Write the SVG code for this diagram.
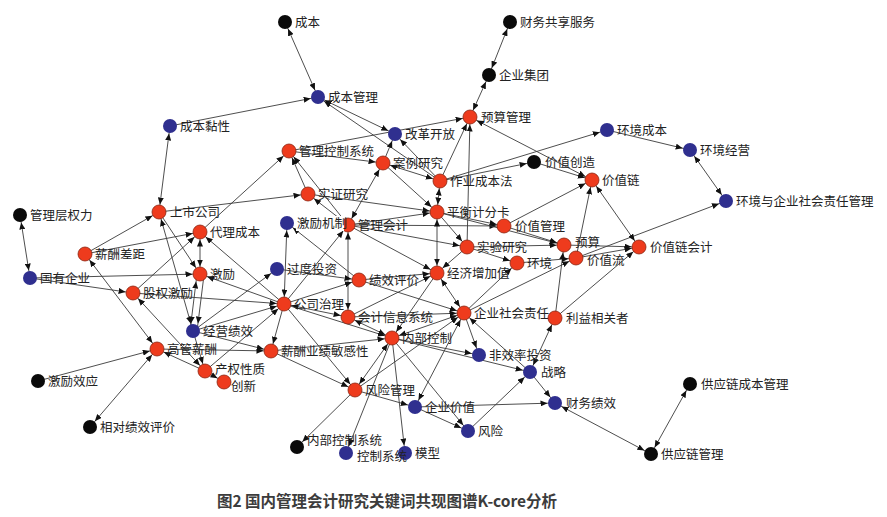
<svg xmlns="http://www.w3.org/2000/svg" width="887" height="517" viewBox="0 0 887 517">
<style>
.e{stroke:#3a3a3a;stroke-width:0.9;fill:none;marker-end:url(#a)}
.b{stroke:#3a3a3a;stroke-width:0.9;fill:none;marker-start:url(#a);marker-end:url(#a)}
.k{fill:#0a0a0a}
.r{fill:#ee3b1d;stroke:#8a2410;stroke-width:0.8}
.u{fill:#2f2f8f}
text{font-family:"Noto Sans CJK SC","Noto Sans",sans-serif;font-size:12.5px;fill:#222}
.cap{font-size:15.5px;font-weight:bold;fill:#3c3c3c}
.bg{fill:#fff}
</style>
<defs>
<marker id="a" viewBox="0 0 7 6" refX="14.5" refY="3" markerWidth="7" markerHeight="6" markerUnits="userSpaceOnUse" orient="auto-start-reverse"><path d="M0,0 L7,3 L0,6 z" fill="#111"/></marker>
</defs>
<rect width="887" height="517" fill="#fff"/>
<g id="edges">
<line class="b" x1="285" y1="22" x2="318" y2="97"/>
<line class="b" x1="510" y1="22" x2="489" y2="75"/>
<line class="b" x1="489" y1="75" x2="470" y2="117"/>
<line class="e" x1="170" y1="126" x2="318" y2="97"/>
<line class="b" x1="159" y1="212" x2="170" y2="126"/>
<line class="b" x1="318" y1="97" x2="395" y2="134"/>
<line class="e" x1="440" y1="181" x2="318" y2="97"/>
<line class="e" x1="383" y1="163" x2="395" y2="134"/>
<line class="e" x1="440" y1="181" x2="395" y2="134"/>
<line class="e" x1="289" y1="151" x2="470" y2="117"/>
<line class="e" x1="440" y1="181" x2="470" y2="117"/>
<line class="e" x1="467" y1="247" x2="470" y2="117"/>
<line class="b" x1="470" y1="117" x2="592" y2="180"/>
<line class="e" x1="440" y1="181" x2="607" y2="130"/>
<line class="e" x1="440" y1="181" x2="534" y2="162"/>
<line class="e" x1="534" y1="162" x2="592" y2="180"/>
<line class="e" x1="607" y1="130" x2="690" y2="150"/>
<line class="b" x1="690" y1="150" x2="726" y2="201"/>
<line class="e" x1="576" y1="258" x2="726" y2="201"/>
<line class="b" x1="592" y1="180" x2="639" y2="247"/>
<line class="e" x1="564" y1="245" x2="639" y2="247"/>
<line class="e" x1="576" y1="258" x2="639" y2="247"/>
<line class="e" x1="576" y1="258" x2="592" y2="180"/>
<line class="e" x1="504" y1="226" x2="592" y2="180"/>
<line class="e" x1="504" y1="226" x2="564" y2="245"/>
<line class="e" x1="437" y1="212" x2="504" y2="226"/>
<line class="e" x1="348" y1="225" x2="504" y2="226"/>
<line class="e" x1="437" y1="212" x2="564" y2="245"/>
<line class="b" x1="437" y1="212" x2="440" y2="181"/>
<line class="b" x1="437" y1="212" x2="437" y2="273"/>
<line class="e" x1="437" y1="212" x2="467" y2="247"/>
<line class="b" x1="383" y1="163" x2="440" y2="181"/>
<line class="e" x1="383" y1="163" x2="437" y2="212"/>
<line class="e" x1="289" y1="151" x2="383" y2="163"/>
<line class="b" x1="383" y1="163" x2="348" y2="225"/>
<line class="e" x1="308" y1="194" x2="437" y2="212"/>
<line class="e" x1="159" y1="212" x2="308" y2="194"/>
<line class="e" x1="200" y1="232" x2="289" y2="151"/>
<line class="e" x1="348" y1="225" x2="289" y2="151"/>
<line class="e" x1="348" y1="225" x2="308" y2="194"/>
<line class="e" x1="348" y1="225" x2="437" y2="212"/>
<line class="b" x1="348" y1="225" x2="348" y2="317"/>
<line class="e" x1="348" y1="225" x2="437" y2="273"/>
<line class="e" x1="348" y1="225" x2="467" y2="247"/>
<line class="b" x1="287" y1="223" x2="284" y2="304"/>
<line class="e" x1="359" y1="280" x2="287" y2="223"/>
<line class="e" x1="277" y1="269" x2="359" y2="280"/>
<line class="e" x1="193" y1="331" x2="277" y2="269"/>
<line class="e" x1="284" y1="304" x2="200" y2="274"/>
<line class="e" x1="284" y1="304" x2="200" y2="232"/>
<line class="e" x1="133" y1="293" x2="284" y2="304"/>
<line class="e" x1="284" y1="304" x2="271" y2="351"/>
<line class="e" x1="205" y1="371" x2="284" y2="304"/>
<line class="b" x1="284" y1="304" x2="348" y2="317"/>
<line class="e" x1="284" y1="304" x2="355" y2="390"/>
<line class="e" x1="284" y1="304" x2="392" y2="338"/>
<line class="e" x1="284" y1="304" x2="359" y2="280"/>
<line class="e" x1="284" y1="304" x2="348" y2="225"/>
<line class="b" x1="200" y1="232" x2="200" y2="274"/>
<line class="e" x1="159" y1="212" x2="200" y2="274"/>
<line class="b" x1="159" y1="212" x2="193" y2="331"/>
<line class="e" x1="85" y1="254" x2="159" y2="212"/>
<line class="e" x1="85" y1="254" x2="200" y2="232"/>
<line class="b" x1="85" y1="254" x2="157" y2="349"/>
<line class="b" x1="30" y1="278" x2="20" y2="215"/>
<line class="e" x1="30" y1="278" x2="200" y2="274"/>
<line class="e" x1="30" y1="278" x2="133" y2="293"/>
<line class="e" x1="133" y1="293" x2="200" y2="232"/>
<line class="b" x1="133" y1="293" x2="205" y2="371"/>
<line class="b" x1="197" y1="274" x2="190" y2="331"/>
<line class="e" x1="204" y1="275" x2="197" y2="331"/>
<line class="e" x1="193" y1="331" x2="271" y2="351"/>
<line class="e" x1="157" y1="349" x2="271" y2="351"/>
<line class="e" x1="205" y1="371" x2="157" y2="349"/>
<line class="e" x1="193" y1="331" x2="205" y2="371"/>
<line class="e" x1="205" y1="371" x2="224" y2="382"/>
<line class="e" x1="38" y1="381" x2="157" y2="349"/>
<line class="b" x1="90" y1="427" x2="157" y2="349"/>
<line class="e" x1="271" y1="351" x2="355" y2="390"/>
<line class="b" x1="392" y1="338" x2="464" y2="313"/>
<line class="b" x1="348" y1="317" x2="392" y2="338"/>
<line class="e" x1="392" y1="338" x2="479" y2="355"/>
<line class="e" x1="392" y1="338" x2="530" y2="372"/>
<line class="b" x1="392" y1="338" x2="355" y2="390"/>
<line class="e" x1="355" y1="390" x2="297" y2="447"/>
<line class="e" x1="392" y1="338" x2="346" y2="453"/>
<line class="e" x1="392" y1="338" x2="405" y2="453"/>
<line class="e" x1="392" y1="338" x2="468" y2="431"/>
<line class="b" x1="415" y1="407" x2="464" y2="313"/>
<line class="e" x1="355" y1="390" x2="415" y2="407"/>
<line class="e" x1="355" y1="390" x2="464" y2="313"/>
<line class="e" x1="415" y1="407" x2="555" y2="403"/>
<line class="e" x1="415" y1="407" x2="468" y2="431"/>
<line class="e" x1="468" y1="431" x2="530" y2="372"/>
<line class="e" x1="530" y1="372" x2="555" y2="403"/>
<line class="e" x1="464" y1="313" x2="479" y2="355"/>
<line class="e" x1="530" y1="372" x2="464" y2="313"/>
<line class="b" x1="530" y1="372" x2="555" y2="318"/>
<line class="b" x1="555" y1="403" x2="651" y2="454"/>
<line class="b" x1="651" y1="454" x2="690" y2="384"/>
<line class="b" x1="437" y1="273" x2="464" y2="313"/>
<line class="e" x1="464" y1="313" x2="517" y2="263"/>
<line class="e" x1="464" y1="313" x2="576" y2="258"/>
<line class="e" x1="555" y1="318" x2="564" y2="245"/>
<line class="e" x1="555" y1="318" x2="639" y2="247"/>
<line class="e" x1="348" y1="317" x2="464" y2="313"/>
<line class="e" x1="359" y1="280" x2="464" y2="313"/>
<line class="e" x1="359" y1="280" x2="437" y2="273"/>
<line class="e" x1="348" y1="317" x2="437" y2="273"/>
<line class="e" x1="467" y1="247" x2="437" y2="273"/>
<line class="e" x1="467" y1="247" x2="517" y2="263"/>
<line class="e" x1="467" y1="247" x2="564" y2="245"/>
<line class="e" x1="517" y1="263" x2="576" y2="258"/>
<line class="e" x1="437" y1="273" x2="392" y2="338"/>
<line class="e" x1="193" y1="331" x2="284" y2="304"/>
<line class="e" x1="271" y1="351" x2="392" y2="338"/>
<line class="e" x1="308" y1="194" x2="289" y2="151"/>
</g>
<g id="n01"><circle class="k" cx="285" cy="22" r="7"/><text x="295" y="26.5">成本</text></g>
<g id="n02"><circle class="k" cx="510" cy="22" r="7"/><text x="520" y="26.5">财务共享服务</text></g>
<g id="n03"><circle class="k" cx="489" cy="75" r="7"/><text x="499" y="79.5">企业集团</text></g>
<g id="n04"><circle class="r" cx="470" cy="117" r="7"/><text x="481" y="121.5">预算管理</text></g>
<g id="n05"><circle class="u" cx="318" cy="97" r="7"/><text x="328" y="101.5">成本管理</text></g>
<g id="n06"><circle class="u" cx="395" cy="134" r="7"/><text x="405" y="138.5">改革开放</text></g>
<g id="n07"><circle class="r" cx="289" cy="151" r="7"/><text x="299" y="155.5">管理控制系统</text></g>
<g id="n08"><circle class="r" cx="383" cy="163" r="7"/><text x="393" y="167.5">案例研究</text></g>
<g id="n09"><circle class="k" cx="534" cy="162" r="7"/><text x="545" y="166.5">价值创造</text></g>
<g id="n10"><circle class="r" cx="440" cy="181" r="7"/><text x="450" y="185.5">作业成本法</text></g>
<g id="n11"><circle class="r" cx="592" cy="180" r="7"/><text x="602" y="184.5">价值链</text></g>
<g id="n12"><circle class="u" cx="607" cy="130" r="7"/><text x="617" y="134.5">环境成本</text></g>
<g id="n13"><circle class="u" cx="690" cy="150" r="7"/><text x="700" y="154.5">环境经营</text></g>
<g id="n14"><circle class="u" cx="726" cy="201" r="7"/><text x="736" y="205.5">环境与企业社会责任管理</text></g>
<g id="n15"><circle class="u" cx="170" cy="126" r="7"/><text x="180" y="130.5">成本黏性</text></g>
<g id="n16"><circle class="k" cx="20" cy="215" r="7"/><text x="30" y="219.5">管理层权力</text></g>
<g id="n17"><circle class="r" cx="159" cy="212" r="7"/><text x="170" y="216.5">上市公司</text></g>
<g id="n18"><circle class="r" cx="308" cy="194" r="7"/><text x="318" y="198.5">实证研究</text></g>
<g id="n19"><circle class="r" cx="348" cy="225" r="7"/><text x="358" y="229.5">管理会计</text></g>
<g id="n20"><circle class="u" cx="287" cy="223" r="7"/><rect class="bg" x="296" y="216" width="48" height="15"/><text x="297" y="227.5">激励机制</text></g>
<g id="n21"><circle class="r" cx="437" cy="212" r="7"/><text x="447" y="216.5">平衡计分卡</text></g>
<g id="n22"><circle class="r" cx="504" cy="226" r="7"/><text x="515" y="230.5">价值管理</text></g>
<g id="n23"><circle class="r" cx="200" cy="232" r="7"/><text x="210" y="236.5">代理成本</text></g>
<g id="n24"><circle class="r" cx="85" cy="254" r="7"/><text x="95" y="258.5">薪酬差距</text></g>
<g id="n25"><circle class="r" cx="467" cy="247" r="7"/><text x="477" y="251.5">实验研究</text></g>
<g id="n26"><circle class="r" cx="564" cy="245" r="7"/><text x="575" y="246.5">预算</text></g>
<g id="n27"><circle class="r" cx="639" cy="247" r="7"/><text x="650" y="251.5">价值链会计</text></g>
<g id="n28"><circle class="r" cx="200" cy="274" r="7"/><text x="210" y="278.5">激励</text></g>
<g id="n29"><circle class="r" cx="517" cy="263" r="7"/><text x="527" y="267.5">环境</text></g>
<g id="n30"><circle class="r" cx="576" cy="258" r="7"/><text x="587" y="264.5">价值流</text></g>
<g id="n31"><circle class="u" cx="277" cy="269" r="7"/><text x="287" y="273.5">过度投资</text></g>
<g id="n32"><circle class="r" cx="437" cy="273" r="7"/><text x="447" y="277.5">经济增加值</text></g>
<g id="n33"><circle class="r" cx="359" cy="280" r="7"/><text x="369" y="284.5">绩效评价</text></g>
<g id="n34"><circle class="u" cx="30" cy="278" r="7"/><text x="40" y="282.5">国有企业</text></g>
<g id="n35"><circle class="r" cx="133" cy="293" r="7"/><text x="143" y="297.5">股权激励</text></g>
<g id="n36"><circle class="r" cx="284" cy="304" r="7"/><text x="294" y="308.5">公司治理</text></g>
<g id="n37"><circle class="r" cx="348" cy="317" r="7"/><text x="358" y="321.5">会计信息系统</text></g>
<g id="n38"><circle class="r" cx="464" cy="313" r="7"/><text x="474" y="317.5">企业社会责任</text></g>
<g id="n39"><circle class="r" cx="555" cy="318" r="7"/><text x="566" y="322.5">利益相关者</text></g>
<g id="n40"><circle class="u" cx="193" cy="331" r="7"/><text x="203" y="335.5">经营绩效</text></g>
<g id="n41"><circle class="r" cx="392" cy="338" r="7"/><text x="402" y="342.5">内部控制</text></g>
<g id="n42"><circle class="r" cx="157" cy="349" r="7"/><text x="167" y="353.5">高管薪酬</text></g>
<g id="n43"><circle class="r" cx="271" cy="351" r="7"/><text x="281" y="355.5">薪酬业绩敏感性</text></g>
<g id="n44"><circle class="u" cx="479" cy="355" r="7"/><text x="489" y="359.5">非效率投资</text></g>
<g id="n45"><text x="231" y="391">创新</text><circle class="r" cx="224" cy="382" r="7"/></g>
<g id="n46"><circle class="r" cx="205" cy="371" r="7"/><text x="215" y="373.5">产权性质</text></g>
<g id="n47"><circle class="u" cx="530" cy="372" r="7"/><text x="541" y="376.5">战略</text></g>
<g id="n48"><circle class="k" cx="38" cy="381" r="7"/><text x="48" y="385.5">激励效应</text></g>
<g id="n49"><circle class="r" cx="355" cy="390" r="7"/><text x="365" y="394.5">风险管理</text></g>
<g id="n50"><circle class="u" cx="415" cy="407" r="7"/><text x="425" y="411.5">企业价值</text></g>
<g id="n51"><circle class="u" cx="555" cy="403" r="7"/><text x="566" y="407.5">财务绩效</text></g>
<g id="n52"><circle class="k" cx="90" cy="427" r="7"/><text x="100" y="431.5">相对绩效评价</text></g>
<g id="n53"><circle class="u" cx="468" cy="431" r="7"/><text x="478" y="435.5">风险</text></g>
<g id="n54"><circle class="k" cx="690" cy="384" r="7"/><text x="701" y="388.5">供应链成本管理</text></g>
<g id="n55"><circle class="k" cx="651" cy="454" r="7"/><text x="661" y="458.5">供应链管理</text></g>
<g id="n56"><circle class="k" cx="297" cy="447" r="7"/><text x="307" y="444.5">内部控制系统</text></g>
<g id="n57"><circle class="u" cx="405" cy="453" r="7"/><text x="415" y="457.5">模型</text></g>
<g id="n58"><circle class="u" cx="346" cy="453" r="7"/><text x="357" y="461">控制系统</text></g>
<text class="cap" x="387" y="507" text-anchor="middle">图2 国内管理会计研究关键词共现图谱K-core分析</text>
</svg>
